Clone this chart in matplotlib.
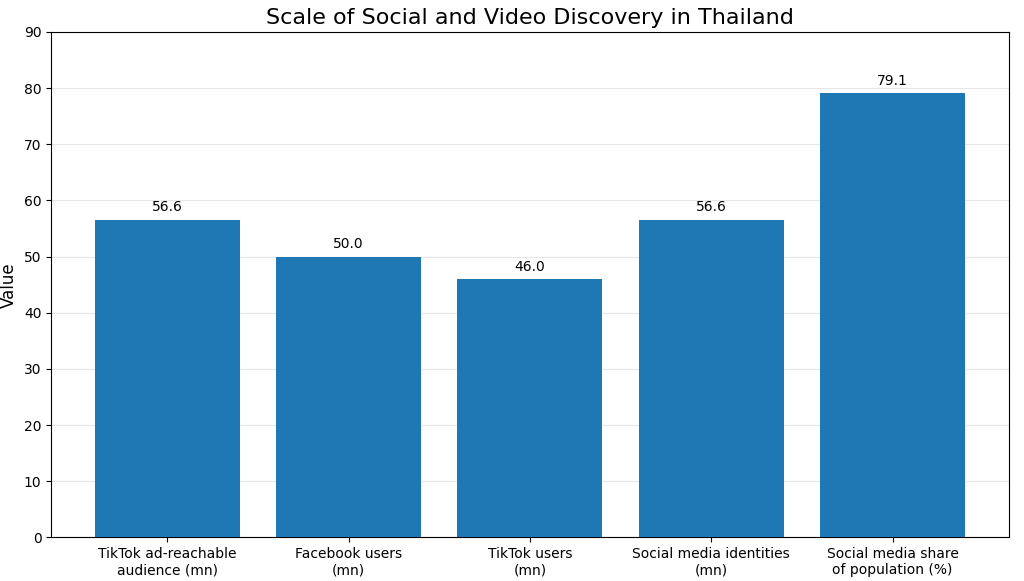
import matplotlib
matplotlib.use("Agg")
import matplotlib.pyplot as plt

categories = ["TikTok ad-reachable\naudience (mn)", "Facebook users\n(mn)", "TikTok users\n(mn)",
              "Social media identities\n(mn)", "Social media share\nof population (%)"]
values = [56.6, 50.0, 46.0, 56.6, 79.1]

fig, ax = plt.subplots(figsize=(10.24, 5.81), dpi=100)
bars = ax.bar(categories, values, color="#1f77b4", width=0.8, zorder=3)
for b, v in zip(bars, values):
    ax.annotate(f"{v:.1f}", (b.get_x() + b.get_width() / 2, v), xytext=(0, 4),
                textcoords="offset points", ha="center", va="bottom", fontsize=10)
ax.set_ylim(0, 90)
ax.set_yticks(range(0, 91, 10))
ax.yaxis.grid(True, color="#e6e6e6", linewidth=0.8, zorder=0)
ax.set_ylabel("Value", fontsize=12)
ax.set_title("Scale of Social and Video Discovery in Thailand", fontsize=16)
ax.tick_params(labelsize=10)
fig.subplots_adjust(left=0.05, right=0.985, top=0.945, bottom=0.075)
fig.savefig("out.png")
